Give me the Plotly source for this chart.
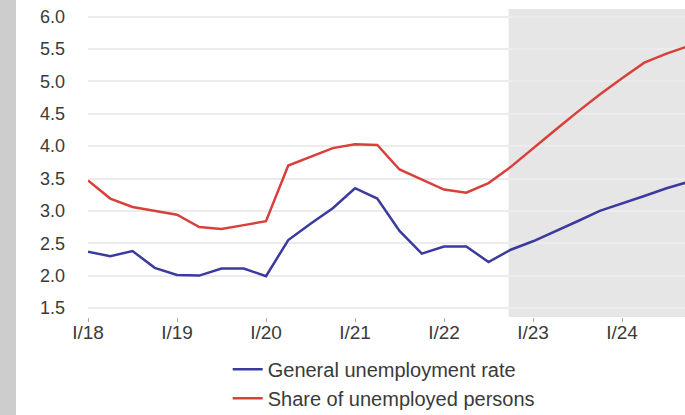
import plotly.graph_objects as go

quarters = ["I/18", "II/18", "III/18", "IV/18", "I/19", "II/19", "III/19", "IV/19",
            "I/20", "II/20", "III/20", "IV/20", "I/21", "II/21", "III/21", "IV/21",
            "I/22", "II/22", "III/22", "IV/22", "I/23", "II/23", "III/23", "IV/23",
            "I/24", "II/24", "III/24", "IV/24"]
general_rate = [2.37, 2.30, 2.38, 2.12, 2.01, 2.00, 2.11, 2.11,
                1.99, 2.55, 2.80, 3.04, 3.35, 3.19, 2.69, 2.34,
                2.45, 2.45, 2.21, 2.40, 2.53, 2.68, 2.84, 3.00,
                3.11, 3.23, 3.35, 3.45]
share_unemployed = [3.47, 3.19, 3.06, 3.00, 2.94, 2.75, 2.72, 2.78,
                    2.84, 3.70, 3.84, 3.97, 4.03, 4.02, 3.64, 3.48,
                    3.33, 3.28, 3.43, 3.68, 3.97, 4.25, 4.53, 4.80,
                    5.05, 5.29, 5.43, 5.55]
tick_labels = ["I/18", "I/19", "I/20", "I/21", "I/22", "I/23", "I/24"]
forecast_start = 18.9

x = list(range(len(quarters)))
tick_vals = [quarters.index(t) for t in tick_labels]

fig = go.Figure()
fig.add_trace(go.Scatter(x=x, y=general_rate, mode="lines", name="General unemployment rate",
                         line=dict(color="#3b3a9e", width=2.5), legendgroup="a"))
fig.add_trace(go.Scatter(x=x, y=share_unemployed, mode="lines", name="Share of unemployed persons",
                         line=dict(color="#d8403c", width=2.5), legendgroup="b"))

fig.add_shape(type="rect", xref="x", yref="paper", x0=forecast_start, x1=30, y0=0, y1=1,
              fillcolor="#e6e6e6", line=dict(width=0), layer="below")
# photo strip at left edge
fig.add_shape(type="rect", xref="paper", yref="paper", x0=-0.1474, x1=-0.1206, y0=-0.33, y1=1.04,
              fillcolor="#cdcdcd", line=dict(width=0), layer="below")

font = "Liberation Sans, Arial, sans-serif"
fig.update_layout(
    width=685, height=415,
    margin=dict(l=88, r=0, t=9, b=98, autoexpand=False),
    paper_bgcolor="white", plot_bgcolor="white",
    font=dict(family=font, size=18, color="#3a3a3a"),
    showlegend=True,
    legend=dict(x=0.234, xanchor="left", y=-0.106, yanchor="top",
                font=dict(size=20, color="#3a3a3a"), tracegroupgap=0,
                bgcolor="rgba(0,0,0,0)"),
    xaxis=dict(range=[0, 26.83], tickvals=tick_vals, ticktext=tick_labels,
               showgrid=False, zeroline=False, showline=False,
               ticks="outside", ticklen=4, tickcolor="#aaaaaa", tickwidth=1,
               tickfont=dict(size=19), ticklabelstandoff=-6),
    yaxis=dict(range=[1.36, 6.12], tickvals=[1.5, 2.0, 2.5, 3.0, 3.5, 4.0, 4.5, 5.0, 5.5, 6.0],
               tickformat=".1f", showgrid=True, gridcolor="#ececec", gridwidth=2,
               zeroline=False, showline=False, ticklabelstandoff=22),
)

fig.write_html("out.html")
